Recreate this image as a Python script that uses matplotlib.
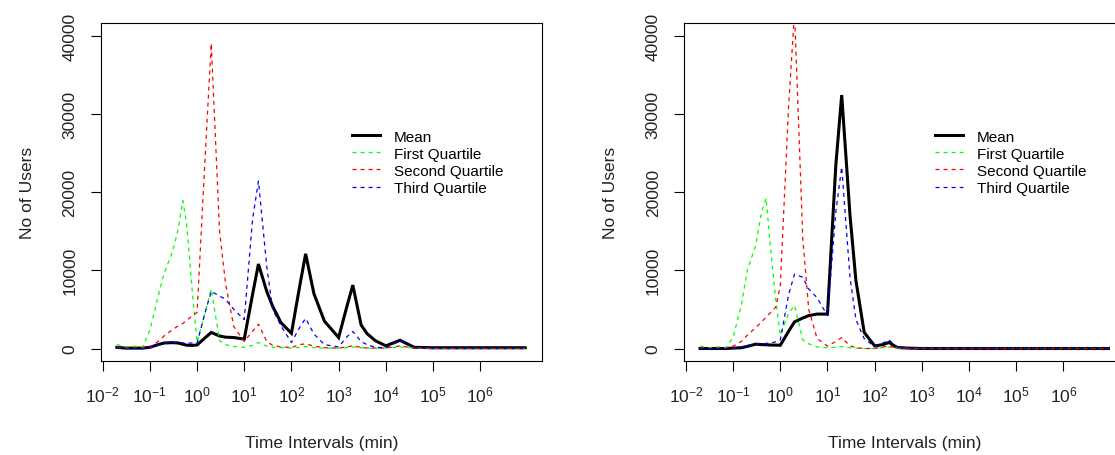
import matplotlib
matplotlib.use('Agg')
import matplotlib.pyplot as plt

plt.rcParams['font.family'] = ['Liberation Sans', 'DejaVu Sans']
plt.rcParams['mathtext.fontset'] = 'custom'
plt.rcParams['mathtext.rm'] = 'Liberation Sans'
plt.rcParams['mathtext.it'] = 'Liberation Sans:italic'
plt.rcParams['lines.scale_dashes'] = False

# временные интервалы (мин) - общая сетка для обеих панелей
x_min = [0.02, 0.03, 0.05, 0.07, 0.1, 0.15, 0.2, 0.3, 0.4, 0.5, 0.6, 0.8,
         1, 1.5, 2, 3, 4, 6, 10, 15, 20, 30, 40, 60, 100, 150, 200, 300,
         500, 1000, 1500, 2000, 3000, 4000, 6000, 1e4, 2e4, 4e4, 1e5, 1e6, 9e6]

# левая панель
left_mean = [150, 50, 50, 50, 150, 500, 700, 750, 700, 550, 420, 400,
             450, 1400, 2050, 1600, 1450, 1400, 1200, 6900, 10800, 7300, 5400, 3300, 1950, 8000, 12100, 7000,
             3500, 1400, 5400, 8100, 3000, 1900, 1000, 340, 1050, 150, 100, 100, 100]
left_q1 = [500, 200, 300, 200, 2300, 6700, 9600, 12300, 15300, 18900, 16000, 7000,
           800, 4700, 7600, 1000, 500, 250, 150, 400, 770, 300, 150, 100, 50, 150, 250, 100,
           50, 50, 100, 200, 100, 50, 50, 50, 200, 50, 0, 0, 0]
left_q2 = [200, 100, 50, 100, 150, 900, 1600, 2400, 2900, 3200, 3550, 4250,
           4600, 25000, 39000, 15000, 8400, 2800, 900, 2200, 3120, 900, 400, 200, 130, 500, 600, 300,
           100, 50, 200, 350, 150, 50, 50, 50, 330, 50, 0, 0, 0]
left_q3 = [100, 0, 0, 0, 100, 400, 700, 750, 750, 700, 700, 700,
           700, 4700, 7300, 6700, 6300, 5000, 3700, 16500, 21400, 10500, 5000, 2900, 770, 2700, 3850, 1850,
           500, 200, 1500, 2180, 880, 500, 150, 100, 970, 50, 0, 0, 0]

# правая панель
right_mean = [0, 0, 0, 0, 50, 100, 270, 550, 500, 480, 450, 430,
              420, 2200, 3400, 3900, 4200, 4400, 4400, 23400, 32400, 17000, 8700, 2050, 330, 500, 770, 130,
              50, 0, 0, 0, 0, 0, 0, 0, 0, 0, 0, 0, 0]
right_q1 = [300, 100, 200, 100, 1440, 5600, 10000, 13150, 17440, 19230, 13800, 6200,
            1700, 4500, 5500, 1100, 600, 200, 100, 150, 250, 100, 50, 0, 0, 100, 200, 50,
            0, 0, 0, 0, 0, 0, 0, 0, 0, 0, 0, 0, 0]
right_q2 = [100, 0, 50, 0, 300, 900, 1700, 2660, 3400, 4000, 4500, 5300,
            8000, 31000, 43000, 14000, 5000, 1300, 300, 900, 1400, 350, 100, 0, 0, 200, 300, 50,
            0, 0, 0, 0, 0, 0, 0, 0, 0, 0, 0, 0, 0]
right_q3 = [0, 0, 0, 0, 50, 200, 400, 550, 600, 650, 700, 850,
            1100, 6900, 9500, 9100, 7600, 6500, 4200, 17400, 23200, 9100, 3700, 1250, 250, 700, 1100, 200,
            0, 0, 0, 0, 0, 0, 0, 0, 0, 0, 0, 0, 0]

labels = ['Mean', 'First Quartile', 'Second Quartile', 'Third Quartile']
colors = ['black', '#00ff00', '#ff0000', '#0000ff']
x_ticks = [1e-2, 1e-1, 1, 1e1, 1e2, 1e3, 1e4, 1e5, 1e6]
x_tick_labels = ['$10^{-2}$', '$10^{-1}$', '$10^{0}$', '$10^{1}$', '$10^{2}$',
                 '$10^{3}$', '$10^{4}$', '$10^{5}$', '$10^{6}$']
y_ticks = [0, 10000, 20000, 30000, 40000]

fig = plt.figure(figsize=(11.15, 4.56), dpi=100)
ax1 = fig.add_axes([0.0906, 0.2061, 0.3955, 0.7412])
ax2 = fig.add_axes([0.6137, 0.2061, 0.3955, 0.7412])


def draw_panel(ax, series):
    for i, (vals, lab, col) in enumerate(zip(series, labels, colors)):
        if i == 0:
            ax.plot(x_min, vals, color=col, lw=2.2, label=lab, solid_joinstyle='miter')
        else:
            ax.plot(x_min, vals, color=col, lw=0.9, label=lab, dashes=(2.9, 2.9))
    ax.set_xscale('log')
    ax.set_xlim(10 ** -2.035, 10 ** 7.31)
    ax.set_ylim(-1600, 41600)
    ax.set_xticks(x_ticks)
    ax.set_xticklabels(x_tick_labels)
    ax.minorticks_off()
    ax.set_yticks(y_ticks)
    ax.set_yticklabels([str(v) for v in y_ticks], rotation=90, va='center')
    ax.tick_params(axis='both', direction='out', length=7, width=0.8,
                   labelsize=12.5, colors='black', labelcolor='#222222')
    ax.tick_params(axis='x', pad=10)
    ax.tick_params(axis='y', pad=10)
    for s in ax.spines.values():
        s.set_linewidth(0.8)
    ax.set_xlabel('Time Intervals (min)', fontsize=12.5, color='#222222', labelpad=22)
    ax.set_ylabel('No of Users', fontsize=12.5, color='#222222', labelpad=20)
    ax.legend(loc='center left', bbox_to_anchor=(0.569, 0.588), frameon=False,
              fontsize=11, handlelength=1.85, handletextpad=0.9, labelspacing=0.2,
              borderpad=0, borderaxespad=0)


draw_panel(ax1, [left_mean, left_q1, left_q2, left_q3])
draw_panel(ax2, [right_mean, right_q1, right_q2, right_q3])

plt.savefig('out.png', dpi=100)
